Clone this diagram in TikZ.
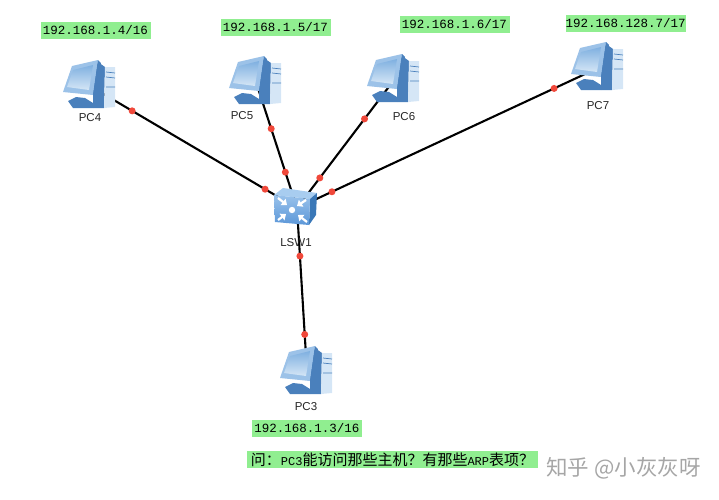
\documentclass[tikz,border=0pt]{standalone}
\usepackage{fontspec}
\setmainfont{Liberation Sans}
\setmonofont{Liberation Mono}
\newfontfamily\cjk{Noto Sans CJK SC}
\usetikzlibrary{arrows.meta}
\definecolor{tagGreen}{HTML}{90EE90}
\definecolor{dotRed}{HTML}{F0483A}
\definecolor{pcDark}{HTML}{4A80BC}
\definecolor{pcMid}{HTML}{9CC2E8}
\definecolor{pcLight}{HTML}{D5E6F6}
\definecolor{pcScreen}{HTML}{7FB0E0}
\definecolor{swFront}{HTML}{5C97D8}
\definecolor{swTop}{HTML}{A8CDF0}
\definecolor{swSide}{HTML}{3A78B8}

\begin{document}
\begin{tikzpicture}[x=1pt, y=-1pt]
                \tikzset{
                  device/.style={
                    inner sep=0pt,
                    minimum size=2pt, % only an anchor for the links
                  },
                  link/.style={draw=black, line width=2.1pt},
                  reddot/.style={
                    circle,
                    fill=dotRed,
                    inner sep=0pt,
                    minimum size=7pt,
                  },
                  devname/.style={font=\fontsize{11.5}{13}\selectfont, text=black!85},
                  iptag/.style={
                    rectangle,
                    fill=tagGreen,
                    text centered,
                    inner sep=0pt,
                    minimum width=110pt,
                    minimum height=17pt,
                    font=\ttfamily\fontsize{12.5}{14}\selectfont,
                  },
                  pics/pcicon/.style={code={
                    % stand
                    \fill[pcDark] (-22,15) -- (-14,11) -- (-5,12) -- (3,17) -- (3,22) -- (-17,22) -- cycle;
                    % tower
                    \fill[pcDark] (8,-24) -- (15,-19) -- (14,22) -- (3,22) -- (3,-10) -- cycle;
                    \fill[pcLight] (15,-19) -- (25,-19) -- (25,21) -- (14,22) -- cycle;
                    \draw[pcDark, line width=.7pt] (16,-14) -- (25,-13) (16,-9) -- (25,-8) (16,1) -- (25,1);
                    % monitor
                    \fill[pcMid] (-18,-20) -- (8,-26) -- (3,9) -- (-27,6) -- cycle;
                    \fill[pcDark] (8,-26) -- (11,-23) -- (6,11) -- (3,9) -- cycle;
                    \shade[top color=pcScreen, bottom color=pcLight] (-17,-16) -- (3,-21) -- (-1,4) -- (-23,1) -- cycle;
                  }},
                  pics/swicon/.style={code={
                    \fill[swTop] (-22,-12) -- (-13,-19) -- (21,-14) -- (14,-8) -- cycle;
                    \fill[swSide] (14,-8) -- (21,-14) -- (20,8) -- (13,18) -- cycle;
                    \shade[top color=swTop!80!swFront, bottom color=swFront] (-22,-12) -- (14,-8) -- (13,18) -- (-21,15) -- cycle;
                    \foreach \ax/\ay/\bx/\by in {-18/-9/-9/-2, 10/-7/1/-1, -18/13/-10/7, 11/15/2/8} {
                      \draw[white, line width=2.2pt, -{Triangle[width=8pt,length=5pt]}] (\ax,\ay) -- (\bx,\by);
                    }
                    \fill[white] (-4,3) circle (3.2pt);
                  }},
                }

                \useasboundingbox (0,0) rectangle (719,499);

                \node[device] (LSW1) at (297,208) {};
                \node[device] (PC4) at (90,86) {};
                \node[device] (PC5) at (256,82) {};
                \node[device] (PC6) at (394,80) {};
                \node[device] (PC7) at (598,68) {};
                \node[device] (PC3) at (307,372) {};

                \draw[link] (PC4) -- node[reddot, pos=.2] (d4a) {} node[reddot, pos=.85] (d4b) {} (LSW1);
                \draw[link] (PC5) -- node[reddot, pos=.368] (d5a) {} node[reddot, pos=.72] (d5b) {} (LSW1);
                \draw[link] (PC6) -- node[reddot, pos=.30] (d6a) {} node[reddot, pos=.77] (d6b) {} (LSW1);
                \draw[link] (PC7) -- node[reddot, pos=.143] (d7a) {} node[reddot, pos=.887] (d7b) {} (LSW1);
                \draw[link] (LSW1) -- node[reddot, pos=.29] (d3a) {} node[reddot, pos=.775] (d3b) {} (PC3);

                \foreach \pcname in {PC4, PC5, PC6, PC7, PC3} {
                  \pic at (\pcname) {pcicon};
                }
                \pic at (296,207) {swicon};

                \node[devname] (namePC4) at (90,118) {PC4};
                \node[devname] (namePC5) at (242,116) {PC5};
                \node[devname] (namePC6) at (404,117) {PC6};
                \node[devname] (namePC7) at (598,106) {PC7};
                \node[devname] (namePC3) at (306,407) {PC3};
                \node[devname] (nameLSW1) at (296,243) {LSW1};

                \node[iptag] (ipPC4) at (95.5,30.5) {192.168.1.4/16};
                \node[iptag] (ipPC5) at (275.5,27) {192.168.1.5/17};
                \node[iptag] (ipPC6) at (454.5,24.5) {192.168.1.6/17};
                \node[iptag, minimum width=117pt] (ipPC7) at (625.5,23.5) {192.168.128.7/17};
                \node[iptag] (ipPC3) at (307,428) {192.168.1.3/16};

                \node[iptag, minimum width=291pt, font=\cjk\fontsize{15}{17}\selectfont] (question) at (392.5,459.5)
                  {问：{\ttfamily\fontsize{12}{13}\selectfont PC3}能访问那些主机？有那些{\ttfamily\fontsize{12}{13}\selectfont ARP}表项？};

                \node[font=\cjk\fontsize{21.5}{23}\selectfont, text=black!35] (mark) at (623.5,468) {知乎 @小灰灰呀};
              \end{tikzpicture}
\end{document}
